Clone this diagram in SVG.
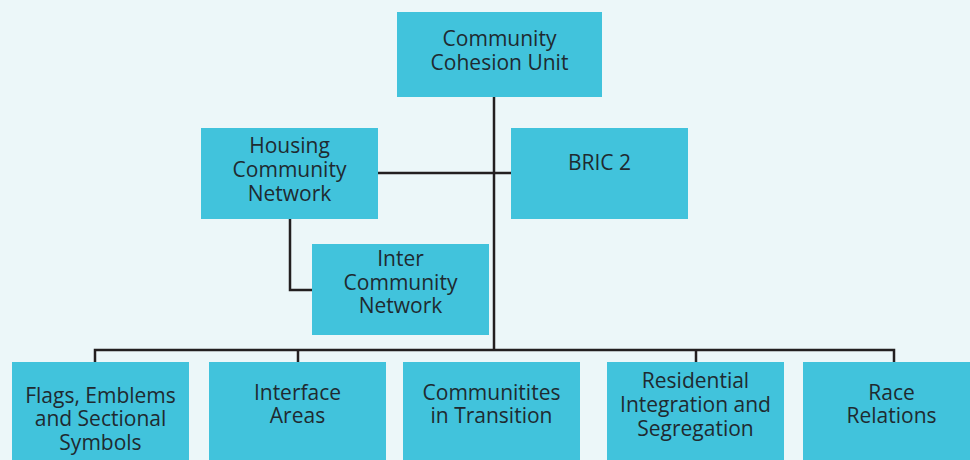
<svg xmlns="http://www.w3.org/2000/svg" width="970" height="460" viewBox="0 0 970 460">
<style>
.box{fill:#41c3dc}
.t{font-family:"Open Sans","Noto Sans",sans-serif;font-size:21px;fill:#1f2a30;text-anchor:middle}
.c{fill:none;stroke:#231f20;stroke-width:2.5}
</style>
<rect width="970" height="460" fill="#ecf7f9"/>
<g id="connectors">
<path class="c" d="M494 97V350"/>
<path class="c" d="M378 173H511"/>
<path class="c" d="M290 219V290H312"/>
<path class="c" d="M95 362V350H894V362"/>
<path class="c" d="M298 350V362M696 350V362"/>
</g>
<g id="cohesion"><rect class="box" x="397" y="12" width="205" height="85"/><text class="t" x="499.5" y="46">Community</text><text class="t" x="499.5" y="70">Cohesion Unit</text></g>
<g id="housing"><rect class="box" x="201" y="128" width="177" height="91"/><text class="t" x="289.5" y="153">Housing</text><text class="t" x="289.5" y="177">Community</text><text class="t" x="289.5" y="201">Network</text></g>
<g id="bric"><rect class="box" x="511" y="128" width="177" height="91"/><text class="t" x="599.5" y="170">BRIC 2</text></g>
<g id="inter"><rect class="box" x="312" y="244" width="177" height="91"/><text class="t" x="400.5" y="266">Inter</text><text class="t" x="400.5" y="290">Community</text><text class="t" x="400.5" y="313">Network</text></g>
<g id="flags"><rect class="box" x="12" y="362" width="177" height="110"/><text class="t" x="100.5" y="403">Flags, Emblems</text><text class="t" x="100.5" y="426">and Sectional</text><text class="t" x="100.5" y="450">Symbols</text></g>
<g id="interface"><rect class="box" x="209" y="362" width="177" height="110"/><text class="t" x="297.5" y="400">Interface</text><text class="t" x="297.5" y="423">Areas</text></g>
<g id="transition"><rect class="box" x="403" y="362" width="177" height="110"/><text class="t" x="491.5" y="400">Communitites</text><text class="t" x="491.5" y="423">in Transition</text></g>
<g id="residential"><rect class="box" x="607" y="362" width="177" height="110"/><text class="t" x="695.5" y="388">Residential</text><text class="t" x="695.5" y="412">Integration and</text><text class="t" x="695.5" y="436">Segregation</text></g>
<g id="race"><rect class="box" x="803" y="362" width="177" height="110"/><text class="t" x="891.5" y="400">Race</text><text class="t" x="891.5" y="423">Relations</text></g>
</svg>
